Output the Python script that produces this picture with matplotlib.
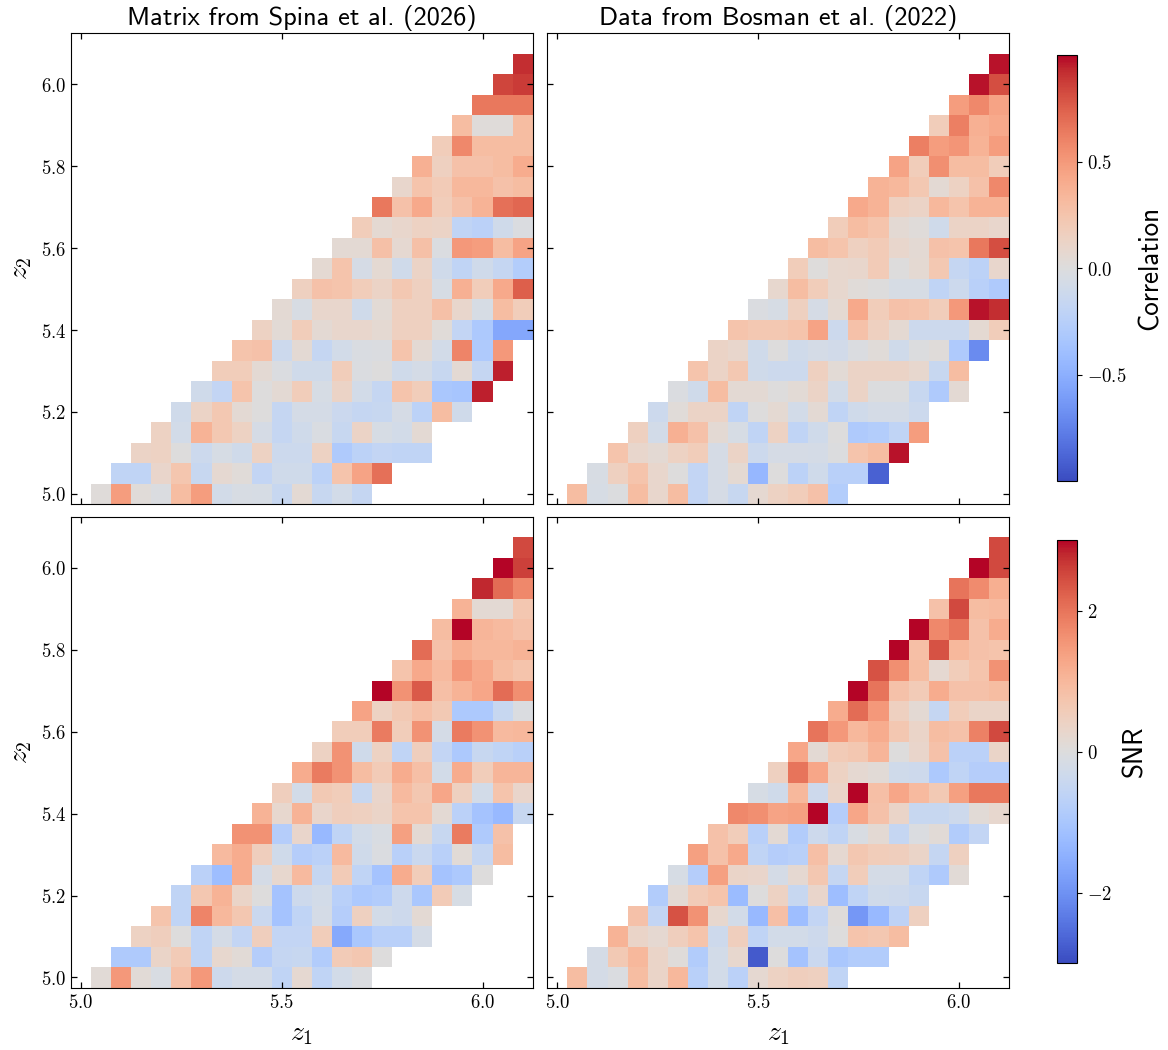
import numpy as np
import matplotlib
matplotlib.use("Agg")
import matplotlib.pyplot as plt
from matplotlib.ticker import FuncFormatter

plt.rcParams["mathtext.fontset"] = "cm"

# bin centres: columns z1 = 5.05 ... 6.10, rows z2 = 5.00 ... 6.05
z1_edges = 5.025 + 0.05 * np.arange(23)
z2_edges = 4.975 + 0.05 * np.arange(23)

# each row i starts at column i (diagonal) and runs to the right
corr_spina = [
    [0.02, 0.48, 0.03, -0.02, 0.30, 0.48, -0.08, -0.04, -0.05, -0.15, 0.05, -0.15, -0.08, -0.17],
    [-0.20, -0.20, 0.10, 0.24, -0.15, 0.07, 0.03, -0.18, -0.10, -0.10, -0.22, 0.25, 0.45, 0.68],
    [0.12, 0.14, 0.00, -0.12, -0.05, -0.10, 0.14, -0.12, -0.12, 0.14, -0.30, -0.22, -0.18, -0.20, -0.20],
    [0.14, -0.08, 0.36, 0.22, 0.14, -0.06, -0.17, -0.10, -0.03, -0.15, 0.12, -0.05, -0.08, 0.05],
    [-0.10, 0.12, 0.22, 0.05, 0.00, -0.17, -0.07, -0.07, -0.13, -0.17, -0.15, -0.06, -0.22, 0.30, -0.10],
    [-0.10, -0.18, 0.25, 0.00, 0.05, 0.18, -0.05, 0.12, -0.08, -0.17, 0.25, 0.18, -0.33, -0.35, 0.95],
    [0.18, 0.18, 0.05, -0.02, -0.10, -0.10, 0.18, -0.02, 0.00, -0.10, -0.07, -0.15, 0.05, -0.17, 0.95],
    [0.25, 0.27, -0.12, 0.05, -0.17, -0.08, -0.03, -0.02, 0.25, 0.05, -0.08, 0.60, -0.30, 0.50],
    [0.14, 0.04, 0.18, 0.05, 0.09, 0.09, 0.06, 0.15, 0.15, 0.03, -0.18, -0.32, -0.55, -0.55],
    [0.05, -0.04, 0.09, 0.09, -0.10, 0.04, 0.15, 0.15, 0.28, 0.09, -0.05, 0.30, 0.18],
    [0.15, 0.27, 0.25, 0.18, 0.12, 0.22, 0.15, -0.05, 0.38, 0.18, 0.42, 0.75],
    [0.06, 0.25, -0.06, 0.06, -0.10, 0.12, -0.10, -0.20, -0.10, -0.17, -0.28],
    [0.05, 0.05, 0.28, 0.07, 0.28, -0.02, 0.50, 0.48, 0.30, 0.45],
    [0.18, 0.06, 0.09, 0.14, 0.12, -0.20, -0.23, -0.10, -0.02],
    [0.65, 0.27, 0.42, 0.18, 0.27, 0.36, 0.68, 0.72],
    [0.09, 0.25, 0.20, 0.33, 0.33, 0.27, 0.30],
    [0.38, 0.15, 0.27, 0.27, 0.30, 0.40],
    [0.18, 0.58, 0.30, 0.30, 0.30],
    [0.30, 0.02, 0.02, 0.30],
    [0.65, 0.65, 0.65],
    [0.85, 0.88],
    [0.92],
]

corr_bosman = [
    [0.30, -0.05, -0.01, 0.30, 0.09, 0.30, -0.18, -0.06, -0.15, 0.07, 0.14, 0.18, 0.27, -0.28],
    [-0.04, 0.15, 0.25, 0.09, 0.00, -0.18, -0.06, 0.06, -0.45, 0.00, -0.22, -0.10, -0.25, -0.25, -0.90],
    [0.25, 0.09, 0.05, 0.14, 0.18, -0.06, 0.12, -0.12, -0.06, -0.06, -0.07, -0.01, 0.25, 0.30, 0.97],
    [0.15, -0.08, 0.38, 0.27, 0.05, -0.05, -0.20, 0.14, -0.20, -0.10, 0.00, -0.30, -0.28, -0.20, 0.48],
    [-0.12, 0.03, 0.12, 0.12, -0.20, 0.00, 0.06, -0.08, 0.05, -0.20, -0.10, -0.07, -0.07, -0.12],
    [-0.02, -0.10, 0.30, 0.05, 0.05, 0.00, 0.04, 0.12, -0.08, 0.12, -0.01, -0.01, -0.15, -0.30, 0.05],
    [0.25, 0.12, 0.22, -0.10, -0.12, -0.12, 0.15, 0.04, 0.12, 0.12, 0.12, 0.08, -0.15, 0.30],
    [0.12, 0.09, -0.10, 0.00, -0.10, -0.07, -0.09, -0.02, 0.03, -0.10, -0.01, 0.02, -0.30, -0.70],
    [0.25, 0.22, 0.22, 0.25, 0.45, -0.12, 0.27, 0.15, 0.06, -0.12, -0.12, -0.12, 0.06, 0.18],
    [-0.02, -0.05, 0.15, -0.06, 0.06, 0.42, 0.18, 0.27, 0.25, 0.18, 0.50, 0.97, 0.92],
    [0.08, 0.30, 0.18, 0.08, 0.03, 0.00, -0.05, -0.05, -0.20, -0.12, -0.25, -0.30],
    [0.18, 0.01, 0.08, 0.09, 0.20, 0.00, 0.06, 0.22, -0.17, -0.22, 0.09],
    [0.30, 0.25, 0.15, 0.20, 0.09, 0.05, 0.27, 0.25, 0.65, 0.82],
    [0.18, 0.30, 0.25, 0.05, 0.02, -0.10, 0.12, 0.12, 0.09],
    [0.42, 0.36, 0.15, 0.12, 0.33, 0.25, 0.36, 0.36],
    [0.36, 0.33, 0.22, 0.05, 0.14, 0.27, 0.58],
    [0.45, 0.18, 0.55, 0.30, 0.30, 0.18],
    [0.62, 0.48, 0.52, 0.36, 0.48],
    [0.18, 0.62, 0.38, 0.42],
    [0.48, 0.58, 0.45],
    [0.97, 0.82],
    [0.97],
]

snr_spina = [
    [0.1, 1.5, 0.1, -0.1, 0.8, 1.5, -0.35, -0.2, -0.2, -0.6, 0.2, -0.6, -0.25, -0.05],
    [-0.9, -0.9, 0.35, 0.6, -0.6, 0.25, 0.1, -0.8, -0.5, -0.45, -0.85, 0.6, 0.7, 0.0],
    [0.4, 0.5, 0.0, -0.6, -0.2, -0.55, 0.5, -0.55, -0.55, 0.55, -1.6, -1.0, -0.75, -0.75, -0.2],
    [0.75, -0.6, 1.8, 1.0, 0.7, -0.4, -1.1, -0.6, -0.2, -0.8, 0.45, -0.25, -0.35, 0.15],
    [-0.6, 0.7, 1.1, 0.35, 0.0, -1.1, -0.35, -0.25, -0.75, -0.95, -0.85, -0.35, -1.0, 0.6, -0.15],
    [-0.7, -1.2, 1.2, -0.2, 0.25, 0.95, -0.5, 0.6, -0.6, -1.1, 1.2, 0.55, -1.1, -0.95, 0.0],
    [0.95, 1.2, 0.5, -0.3, -0.8, -0.7, 0.95, -0.3, -0.05, -0.75, -0.4, -0.75, 0.1, -0.5, 0.9],
    [1.6, 1.6, -0.8, 0.3, -1.3, -0.6, -0.25, -0.1, 1.4, 0.15, -0.45, 1.9, -0.9, 0.8],
    [1.1, 0.25, 1.1, 0.3, 0.5, 0.45, 0.35, 0.75, 0.75, 0.15, -0.7, -1.1, -1.3, -0.45],
    [0.5, -0.25, 0.65, 0.55, -0.45, 0.3, 0.95, 0.7, 1.3, 0.45, -0.25, 0.75, 0.3],
    [1.2, 1.9, 1.6, 0.9, 0.6, 1.2, 0.85, -0.25, 1.2, 0.55, 1.05, 1.05],
    [0.4, 1.6, -0.3, 0.4, -0.6, 0.5, -0.55, -0.95, -0.45, -0.6, -0.75],
    [0.55, 0.55, 1.9, 0.55, 1.6, -0.2, 1.9, 1.6, 0.95, 1.0],
    [1.35, 0.4, 0.65, 0.85, 0.65, -0.95, -0.95, -0.45, -0.05],
    [3.0, 1.6, 2.3, 0.85, 1.1, 1.3, 2.1, 1.65],
    [0.75, 1.25, 0.95, 1.5, 1.25, 0.9, 0.75],
    [2.1, 0.8, 1.15, 1.0, 1.0, 1.1],
    [0.9, 3.0, 1.05, 0.95, 0.8],
    [1.1, 0.15, 0.15, 0.7],
    [2.8, 2.1, 1.75],
    [3.0, 2.6],
    [2.5],
]

snr_bosman = [
    [0.9, -0.2, -0.05, 0.9, 0.35, 1.0, -0.75, -0.25, -0.7, 0.2, 0.4, 0.5, 0.45, -0.6],
    [-0.2, 0.65, 1.0, 0.35, 0.05, -0.85, -0.25, 0.25, -2.8, 0.0, -1.1, -0.4, -1.0, -0.85, -0.85],
    [1.1, 0.35, 0.2, 0.5, 0.75, -0.35, 0.5, -0.6, -0.25, -0.25, -0.35, 0.0, 0.75, 0.7, 0.9],
    [0.8, -0.55, 2.4, 1.6, 0.25, -0.25, -1.3, 0.85, -1.2, -0.55, 0.05, -1.9, -1.3, -0.65, 0.45],
    [-0.85, 0.15, 0.6, 0.75, -1.25, 0.0, 0.4, -0.45, 0.3, -1.2, -0.6, -0.3, -0.35, -0.45],
    [-0.15, -0.8, 1.4, 0.35, 0.3, -0.2, 0.2, 0.7, -0.5, 0.55, -0.2, -0.2, -0.6, -0.9, 0.1],
    [1.4, 0.8, 1.25, -0.6, -0.8, -0.75, 0.85, 0.2, 0.7, 0.55, 0.5, 0.35, -0.5, 0.45],
    [0.8, 0.55, -0.75, 0.15, -0.85, -0.35, -0.6, -0.1, 0.15, -0.5, -0.05, 0.1, -0.85, -0.55],
    [1.75, 1.65, 1.35, 1.4, 3.0, -0.8, 1.3, 0.8, 0.35, -0.45, -0.45, -0.35, 0.1, 0.25],
    [-0.15, -0.3, 1.0, -0.35, 0.35, 3.0, 0.85, 1.3, 0.95, 0.65, 1.4, 1.95, 1.95],
    [0.45, 2.0, 1.3, 0.4, 0.2, 0.1, -0.3, -0.35, -0.95, -0.6, -0.8, -0.8],
    [1.3, 0.15, 0.6, 0.7, 1.05, 0.0, 0.3, 0.8, -0.7, -0.7, 0.35],
    [2.0, 1.5, 1.0, 1.2, 0.7, 0.35, 0.9, 0.8, 1.85, 2.5],
    [1.2, 2.1, 1.5, 0.45, 0.15, -0.5, 0.55, 0.35, 0.35],
    [3.0, 2.0, 0.8, 0.6, 1.2, 0.8, 0.8, 0.9],
    [2.4, 1.65, 0.9, 0.2, 0.55, 0.75, 1.6],
    [3.0, 0.85, 2.4, 1.0, 0.8, 0.75],
    [3.0, 1.75, 2.0, 0.8, 1.2],
    [0.8, 2.5, 0.9, 0.95],
    [2.0, 1.7, 1.15],
    [3.0, 2.5],
    [2.5],
]

titles = ["Matrix from Spina et al. (2026)", "Data from Bosman et al. (2022)"]


def to_grid(rows):
    grid = np.full((22, 22), np.nan)
    for i, row in enumerate(rows):
        grid[i, i:i + len(row)] = row
    return np.ma.masked_invalid(grid)


def mfmt(fmt):
    return FuncFormatter(lambda v, _: "$" + format(v, fmt) + "$")


fig = plt.figure(figsize=(11.68, 10.5), dpi=100)

W, H = 1168.0, 1050.0
# panel boxes in pixels: left, top, right, bottom
boxes = [
    [(71, 33.3, 532.7, 504), (547.3, 33.3, 1009, 504)],
    [(71, 516.7, 532.7, 987.7), (547.3, 516.7, 1009, 987.7)],
]
cbar_boxes = [(1057, 55, 1077, 481), (1057, 540, 1077, 963)]

panels = [[corr_spina, corr_bosman], [snr_spina, snr_bosman]]
limits = [1.0, 3.0]
cb_labels = ["Correlation", "SNR"]
cb_ticks = [[-0.5, 0.0, 0.5], [-2, 0, 2]]
cb_fmt = [".1f", ".0f"]

for r in range(2):
    mesh = None
    for c in range(2):
        l, t, rr, b = boxes[r][c]
        ax = fig.add_axes([l / W, 1 - b / H, (rr - l) / W, (b - t) / H])
        mesh = ax.pcolormesh(z1_edges, z2_edges, to_grid(panels[r][c]),
                             cmap="coolwarm", vmin=-limits[r], vmax=limits[r])
        ax.set_xlim(4.975, 6.125)
        ax.set_ylim(4.975, 6.125)
        ax.set_xticks([5.0, 5.5, 6.0])
        ax.set_yticks([5.0, 5.2, 5.4, 5.6, 5.8, 6.0])
        ax.xaxis.set_major_formatter(mfmt(".1f"))
        ax.yaxis.set_major_formatter(mfmt(".1f"))
        ax.tick_params(direction="in", top=True, right=True, length=4.5,
                       width=0.9, labelsize=13.5)
        if c == 1:
            ax.tick_params(labelleft=False)
        else:
            ax.set_ylabel("$z_2$", fontsize=20, labelpad=5)
        if r == 0:
            ax.tick_params(labelbottom=False)
            ax.set_title(titles[c], fontfamily="cmss10", fontsize=19, pad=6)
        else:
            ax.set_xlabel("$z_1$", fontsize=20, labelpad=5)

    l, t, rr, b = cbar_boxes[r]
    cax = fig.add_axes([l / W, 1 - b / H, (rr - l) / W, (b - t) / H])
    cb = fig.colorbar(mesh, cax=cax, ticks=cb_ticks[r])
    cb.ax.yaxis.set_major_formatter(mfmt(cb_fmt[r]))
    cb.ax.tick_params(labelsize=13.5)
    cb.set_label(cb_labels[r], fontfamily="cmss10", fontsize=19.5, labelpad=8)

fig.savefig("out.png", dpi=100)
